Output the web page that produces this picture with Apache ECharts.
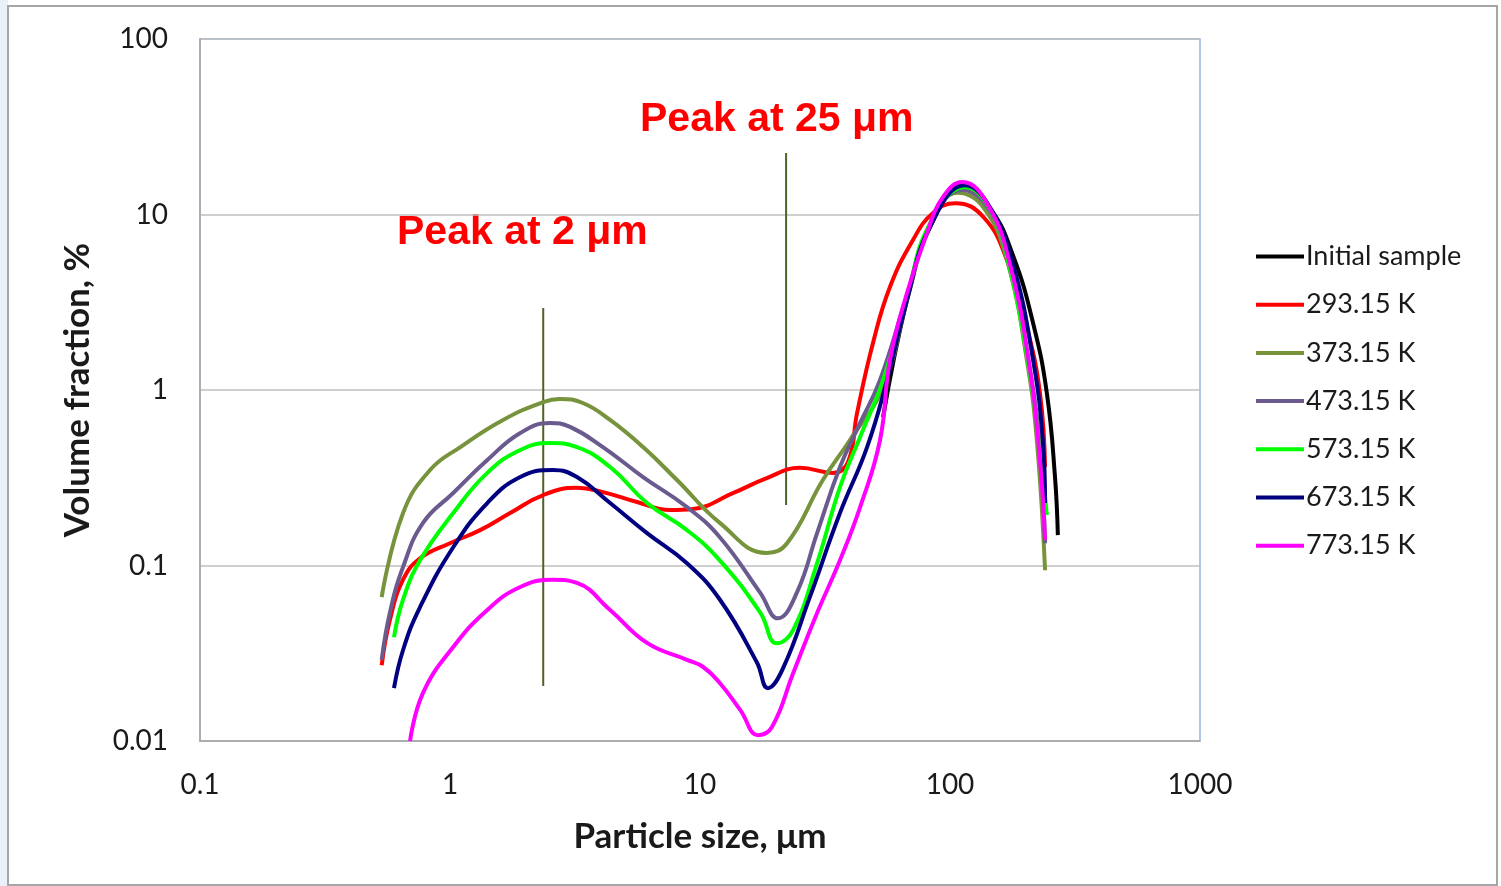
<!DOCTYPE html>
<html>
<head>
<meta charset="utf-8">
<script src="https://cdn.jsdelivr.net/npm/echarts@6/dist/echarts.min.js"></script>
<style>
  html, body { margin: 0; padding: 0; background: #fff; }
  #chart { width: 1501px; height: 886px; }
</style>
</head>
<body>
<div id="chart"></div>
<script>
  // tick labels
  const xTickLabels = ['0.1', '1', '10', '100', '1000']
  const yTickLabels = ['0.01', '0.1', '1', '10', '100']

  const seriesNames = ['Initial sample', '293.15 K', '373.15 K', '473.15 K', '573.15 K', '673.15 K', '773.15 K']

  // [particle size um, volume fraction %]
  const initialSample = [
    [54.0, 0.70], [67.3, 3.26], [83.2, 8.49], [112, 14.7], [145, 10.8],
    [179, 5.8], [215, 2.4], [244, 0.96], [263, 0.32], [270, 0.149]
  ]
  const k293 = [
    [0.533, 0.027], [0.575, 0.049], [0.649, 0.083], [0.759, 0.110], [1.0, 0.134],
    [1.32, 0.159], [1.74, 0.199], [2.36, 0.252], [3.22, 0.277], [4.09, 0.262],
    [5.60, 0.230], [7.59, 0.207], [9.38, 0.210], [13.6, 0.259], [18.5, 0.315],
    [25.1, 0.360], [34.0, 0.337], [39.1, 0.389], [42.5, 0.74], [49.2, 1.85],
    [57.5, 3.86], [71.1, 7.16], [85.5, 10.2], [105, 11.6], [136, 9.68],
    [169, 5.51], [203, 2.29], [229, 0.96], [240, 0.364]
  ]
  const k373 = [
    [0.533, 0.066], [0.649, 0.199], [0.832, 0.350], [1.10, 0.473], [1.63, 0.675],
    [2.36, 0.854], [2.75, 0.889], [3.40, 0.843], [4.37, 0.675], [5.92, 0.473],
    [8.09, 0.307], [12.0, 0.175], [18.5, 0.118], [22.3, 0.134], [31.0, 0.307],
    [39.8, 0.519], [54.0, 1.04], [67.3, 3.26], [83.2, 8.49], [107, 13.3],
    [136, 11.0], [169, 5.51], [203, 1.48], [223, 0.499], [240, 0.094]
  ]
  const k473 = [
    [0.533, 0.029], [0.575, 0.054], [0.649, 0.098], [0.780, 0.175], [1.03, 0.259],
    [1.41, 0.399], [1.91, 0.569], [2.51, 0.649], [3.02, 0.616], [4.09, 0.473],
    [5.92, 0.319], [8.87, 0.215], [12.0, 0.145], [17.4, 0.070], [20.5, 0.050],
    [24.4, 0.070], [29.4, 0.153], [36.3, 0.364], [43.7, 0.649], [52.5, 1.14],
    [67.3, 3.47], [83.2, 8.71], [112, 13.8], [145, 10.4], [174, 4.83],
    [209, 1.30], [229, 0.455], [240, 0.134]
  ]
  const k573 = [
    [0.597, 0.039], [0.649, 0.064], [0.759, 0.107], [1.03, 0.199], [1.41, 0.337],
    [1.91, 0.455], [2.51, 0.499], [3.22, 0.473], [4.37, 0.364], [6.14, 0.227],
    [8.87, 0.159], [12.0, 0.107], [17.4, 0.054], [20.3, 0.036], [23.6, 0.043],
    [29.4, 0.103], [36.3, 0.280], [43.7, 0.540], [54.0, 1.14], [67.3, 3.4],
    [83.2, 8.9], [115, 14.3], [145, 10.6], [174, 4.83], [209, 1.22],
    [229, 0.455], [244, 0.194]
  ]
  const k673 = [
    [0.597, 0.020], [0.649, 0.033], [0.759, 0.058], [1.03, 0.127], [1.41, 0.227],
    [1.91, 0.319], [2.58, 0.350], [3.22, 0.319], [4.37, 0.227], [6.14, 0.153],
    [8.87, 0.103], [12.0, 0.064], [16.9, 0.028], [18.7, 0.020], [21.5, 0.026],
    [27.5, 0.066], [36.3, 0.199], [46.6, 0.473], [56.0, 1.14], [67.3, 3.26],
    [83.2, 8.49], [115, 14.7], [145, 10.9], [179, 5.15], [215, 1.48],
    [235, 0.519], [240, 0.227]
  ]
  const k773 = [
    [0.692, 0.010], [0.780, 0.0188], [1.03, 0.0343], [1.41, 0.0558], [1.91, 0.0754],
    [2.58, 0.083], [3.22, 0.0795], [4.37, 0.0558], [6.14, 0.0362], [8.87, 0.029],
    [10.3, 0.0264], [12.0, 0.0214], [14.5, 0.015], [17.1, 0.0108], [19.4, 0.012],
    [23.6, 0.0244], [29.4, 0.0536], [36.3, 0.107], [43.7, 0.215], [52.5, 0.519],
    [57.5, 1.48], [67.3, 3.57], [80.9, 7.85], [93.8, 12.6], [112, 15.3],
    [142, 11.3], [174, 5.15], [209, 1.30], [229, 0.399], [240, 0.140]
  ]
  // vertical marker lines
  const peak2Line = [[2.36, 2.93], [2.36, 0.0206]]
  const peak25Line = [[22.1, 22.4], [22.1, 0.221]]

  const seriesData = [initialSample, k293, k373, k473, k573, k673, k773]
  const colors = ['#000000', '#ff0000', '#77933c', '#6b5a8e', '#00ff00', '#000080', '#ff00ff']

  const chart = echarts.init(document.getElementById('chart'))

  const lineSeries = seriesNames.map((name, i) => ({
    name: name,
    type: 'line',
    data: seriesData[i],
    smooth: 0.45,
    showSymbol: false,
    symbol: 'none',
    lineStyle: { color: colors[i], width: 4 },
    itemStyle: { color: colors[i] },
    z: 3 + i
  }))

  const markerSeries = [peak2Line, peak25Line].map(d => ({
    type: 'line',
    data: d,
    showSymbol: false,
    symbol: 'none',
    lineStyle: { color: '#4f6228', width: 2 },
    z: 2
  }))

  const option = {
    backgroundColor: '#fff',
    animation: false,
    grid: {
      left: 200,
      top: 39,
      width: 1000,
      height: 702,
      show: true,
      borderColor: '#95b3d7',
      borderWidth: 1.5,
      backgroundColor: 'transparent'
    },
    legend: {
      orient: 'vertical',
      left: 1251,
      top: 238,
      data: seriesNames,
      icon: 'rect',
      itemWidth: 48,
      itemHeight: 4,
      itemGap: 21.2,
      textStyle: {
        fontFamily: 'Lato',
        fontSize: 27,
        lineHeight: 26,
        color: '#1a1a1a',
        padding: [0, 0, 0, -3]
      }
    },
    xAxis: {
      type: 'log',
      logBase: 10,
      min: 0.1,
      max: 1000,
      name: 'Particle size, μm',
      nameLocation: 'middle',
      nameGap: 78,
      nameTextStyle: { fontFamily: 'Lato', fontSize: 35, fontWeight: 'bold', color: '#1a1a1a' },
      axisLine: { show: true, lineStyle: { color: '#a6a6a6', width: 1.5 } },
      axisTick: { show: false },
      splitLine: { show: false },
      minorSplitLine: { show: false },
      axisLabel: {
        margin: 30,
        fontFamily: 'Lato',
        fontSize: 28,
        color: '#1a1a1a',
        formatter: v => xTickLabels[Math.round(Math.log10(v)) + 1]
      }
    },
    yAxis: {
      type: 'log',
      logBase: 10,
      min: 0.01,
      max: 100,
      name: 'Volume fraction, %',
      nameLocation: 'middle',
      nameGap: 105,
      nameRotate: 90,
      nameTextStyle: { fontFamily: 'Lato', fontSize: 35, fontWeight: 'bold', color: '#1a1a1a' },
      axisLine: { show: true, lineStyle: { color: '#a6a6a6', width: 1.5 } },
      axisTick: { show: false },
      splitLine: { show: true, lineStyle: { color: '#bfbfbf', width: 1.5 } },
      axisLabel: {
        margin: 32,
        fontFamily: 'Lato',
        fontSize: 28,
        color: '#1a1a1a',
        formatter: v => yTickLabels[Math.round(Math.log10(v)) + 2]
      }
    },
    graphic: [
      {
        type: 'rect',
        shape: { x: 0, y: 0, width: 8, height: 886 },
        style: { fill: '#e9f1fb' },
        silent: true
      },
      {
        type: 'rect',
        shape: { x: 8, y: 6, width: 1489, height: 879 },
        style: { fill: 'none', stroke: '#a6a6a6', lineWidth: 2 },
        silent: true
      },
      {
        type: 'text',
        left: 640,
        top: 99,
        style: {
          text: 'Peak at 25 μm',
          font: 'bold 41px "Liberation Sans", Arial, sans-serif',
          fill: '#ff0000'
        }
      },
      {
        type: 'text',
        left: 397,
        top: 212,
        style: {
          text: 'Peak at 2 μm',
          font: 'bold 41px "Liberation Sans", Arial, sans-serif',
          fill: '#ff0000'
        }
      }
    ],
    series: markerSeries.concat(lineSeries)
  }

  chart.setOption(option)
</script>
</body>
</html>
